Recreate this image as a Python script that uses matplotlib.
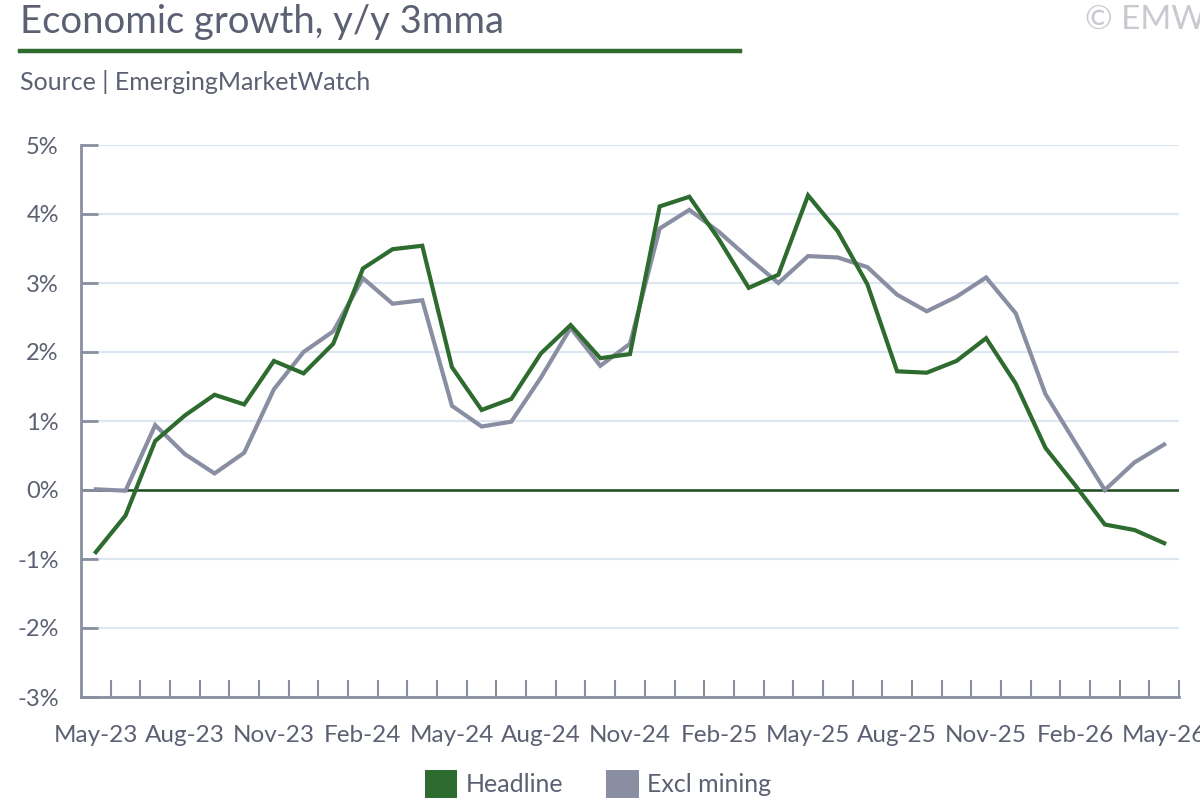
import matplotlib
matplotlib.use("Agg")
import matplotlib.pyplot as plt
from matplotlib.patches import Patch
from matplotlib.lines import Line2D
import numpy as np

months = ["May-23","Jun-23","Jul-23","Aug-23","Sep-23","Oct-23","Nov-23","Dec-23","Jan-24",
          "Feb-24","Mar-24","Apr-24","May-24","Jun-24","Jul-24","Aug-24","Sep-24","Oct-24",
          "Nov-24","Dec-24","Jan-25","Feb-25","Mar-25","Apr-25","May-25","Jun-25","Jul-25",
          "Aug-25","Sep-25","Oct-25","Nov-25","Dec-25","Jan-26","Feb-26","Mar-26","Apr-26","May-26"]

headline = [-0.90, -0.37, 0.71, 1.08, 1.38, 1.24, 1.87, 1.69, 2.12,
            3.21, 3.49, 3.54, 1.78, 1.16, 1.32, 1.98, 2.39, 1.91,
            1.97, 4.11, 4.25, 3.63, 2.93, 3.12, 4.27, 3.75, 2.98,
            1.72, 1.70, 1.87, 2.20, 1.54, 0.61, 0.07, -0.50, -0.58, -0.77]

excl_mining = [0.01, -0.01, 0.94, 0.52, 0.24, 0.54, 1.46, 2.00, 2.30,
               3.07, 2.70, 2.75, 1.22, 0.92, 0.99, 1.63, 2.35, 1.80,
               2.12, 3.79, 4.06, 3.74, 3.36, 3.00, 3.39, 3.37, 3.23,
               2.83, 2.59, 2.80, 3.08, 2.56, 1.39, 0.69, 0.00, 0.40, 0.66]

y_ticks = [-3, -2, -1, 0, 1, 2, 3, 4, 5]

GREEN = "#2e6b2e"
GREY = "#8a8ea2"
TEXT = "#5b6072"
GRID = "#dde7f1"
SPINE = "#8a8fa0"
FONT = "Lato"

fig = plt.figure(figsize=(12, 8), dpi=100)
ax = fig.add_axes([0.0675, 0.12875, 0.915, 0.69])

x = np.arange(len(months))
for v in y_ticks:
    ax.axhline(v, color=GRID, lw=1.6, zorder=0)
ax.axhline(0, color="#1e4a1e", lw=1.8, zorder=1)
ax.plot(x, headline, color=GREEN, lw=3, zorder=3, solid_joinstyle="miter")
ax.plot(x, excl_mining, color=GREY, lw=3, zorder=2, solid_joinstyle="miter")

ax.set_xlim(-0.5, len(months) - 0.5)
ax.set_ylim(-3, 5)

for s in ["top", "right"]:
    ax.spines[s].set_visible(False)
for s in ["left", "bottom"]:
    ax.spines[s].set_color(SPINE)
    ax.spines[s].set_linewidth(2)

ax.set_yticks(y_ticks)
ax.set_yticklabels([f"{v}%" for v in y_ticks], fontfamily=FONT, fontsize=17, color=TEXT)
ax.tick_params(axis="y", direction="in", length=12, width=2, color=SPINE, pad=16)

ax.set_xticks(x[::3])
ax.set_xticklabels(months[::3], fontfamily=FONT, fontsize=17.5, color=TEXT)
ax.set_xticks(np.arange(0.5, len(months), 1.0), minor=True)
ax.tick_params(axis="x", which="major", length=0, pad=20)
ax.tick_params(axis="x", which="minor", direction="in", length=12, width=1.5, color=SPINE)

# Title block
fig.text(20/1200, 1 - 22/800, "Economic growth, y/y 3mma", fontfamily=FONT, fontsize=27.5,
         color=TEXT, va="center", ha="left")
fig.add_artist(Line2D([20/1200, 740/1200], [1 - 51/800, 1 - 51/800], color=GREEN, lw=3.2,
                      transform=fig.transFigure))
fig.text(20/1200, 1 - 82/800, "Source | EmergingMarketWatch", fontfamily=FONT, fontsize=18,
         color=TEXT, va="center", ha="left")
fig.text(1085/1200, 1 - 20/800, "© EMW", fontfamily=FONT, fontsize=24,
         color="#c9cad0", va="center", ha="left")

handles = [Patch(facecolor=GREEN, edgecolor="none", label="Headline"),
           Patch(facecolor=GREY, edgecolor="none", label="Excl mining")]
leg = fig.legend(handles=handles, loc="center", bbox_to_anchor=(598/1200, 1 - 784/800),
                 ncol=2, frameon=False, handlelength=1.3, handleheight=1.3,
                 handletextpad=0.35, columnspacing=1.7,
                 prop={"family": FONT, "size": 18})
for t in leg.get_texts():
    t.set_color(TEXT)

fig.savefig("out.png", dpi=100)
